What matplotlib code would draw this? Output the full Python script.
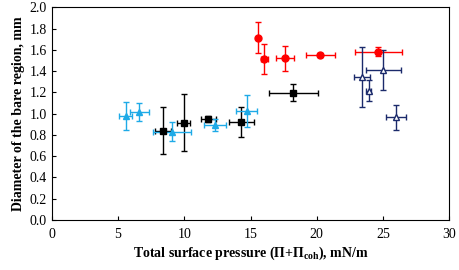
import matplotlib
matplotlib.use("Agg")
import matplotlib.pyplot as plt

# red circles
red_x = [15.6, 16.05, 17.6, 20.27, 24.65]
red_y = [1.716, 1.512, 1.52, 1.553, 1.584]
red_xerr = [0.0, 0.27, 0.68, 1.1, 1.76]
red_yerr = [0.15, 0.14, 0.12, 0.02, 0.04]

# black squares
blk_x = [8.43, 9.98, 11.82, 14.31, 18.24]
blk_y = [0.838, 0.916, 0.95, 0.922, 1.198]
blk_xerr = [0.6, 0.49, 0.54, 0.96, 1.84]
blk_yerr = [0.22, 0.27, 0.03, 0.145, 0.08]

# light blue filled triangles
cyan_x = [5.58, 6.61, 9.1, 12.32, 14.72]
cyan_y = [0.979, 1.016, 0.831, 0.894, 1.029]
cyan_xerr = [0.49, 0.72, 1.43, 0.86, 0.8]
cyan_yerr = [0.13, 0.085, 0.09, 0.06, 0.15]

# navy open triangles
navy_x = [23.42, 23.92, 25.03, 25.98]
navy_y = [1.343, 1.217, 1.412, 0.966]
navy_xerr = [0.6, 0.2, 1.31, 0.75]
navy_yerr = [0.28, 0.1, 0.19, 0.115]

plt.rcParams['font.family'] = ['Liberation Serif', 'DejaVu Serif']
plt.rcParams['mathtext.fontset'] = 'custom'
plt.rcParams['mathtext.rm'] = 'Liberation Serif'
plt.rcParams['mathtext.bf'] = 'Liberation Serif:bold'
plt.rcParams['mathtext.it'] = 'Liberation Serif:italic'

fig = plt.figure(figsize=(4.59, 2.70), dpi=100)
ax = fig.add_axes([0.1126, 0.185, 0.8664, 0.788])

common = dict(capsize=2.5, elinewidth=1.0, capthick=1.0, linestyle='none')
ax.errorbar(red_x, red_y, xerr=red_xerr, yerr=red_yerr, fmt='o', color='#FF0000',
            markersize=5, **common)
ax.errorbar(blk_x, blk_y, xerr=blk_xerr, yerr=blk_yerr, fmt='s', color='black',
            markersize=5, **common)
ax.errorbar(cyan_x, cyan_y, xerr=cyan_xerr, yerr=cyan_yerr, fmt='^', color='#1EAAE7',
            markersize=4.5, **common)
ax.errorbar(navy_x, navy_y, xerr=navy_xerr, yerr=navy_yerr, fmt='^', color='#1B2A6B',
            markerfacecolor='white', markeredgewidth=1.0, markersize=5, **common)

ax.set_xlim(0, 30)
ax.set_ylim(0, 2.0)
ax.set_xticks(range(0, 31, 5))
ax.set_yticks([i / 10 for i in range(0, 21, 2)])
ax.set_yticklabels([f"{i / 10:.1f}" for i in range(0, 21, 2)])
ax.tick_params(direction='in', length=3, labelsize=10, top=False, right=False)
ax.tick_params(axis='x', pad=6)

ax.set_xlabel("Total surface pressure (Π+Π$_{\\mathbf{coh}}$), mN/m",
              fontsize=10, fontweight='bold', labelpad=2)
ax.set_ylabel("Diameter of the bare region, mm", fontsize=10, fontweight='bold', labelpad=3)

fig.savefig("out.png", dpi=100)
